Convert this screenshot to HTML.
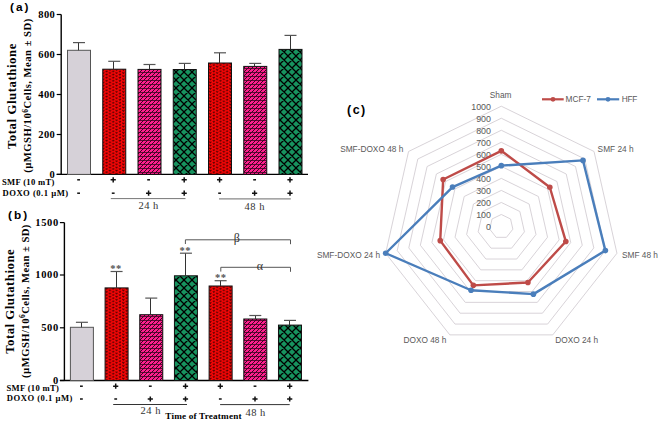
<!DOCTYPE html>
<html><head><meta charset="utf-8"><style>html,body{margin:0;padding:0;background:#fff;width:660px;height:422px;overflow:hidden}</style></head><body>
<svg width="660" height="422" viewBox="0 0 660 422" style="display:block">

<defs>
<pattern id="pRed" patternUnits="userSpaceOnUse" width="6.7" height="3.15" x="1.4" y="0">
  <rect width="6.7" height="3.15" fill="#fa0606"/>
  <path d="M0.3 -0.2 L1.3 1.0 L2.3 -0.2" stroke="#520000" stroke-width="1.0" fill="none"/>
  <path d="M0.3 2.95 L1.3 4.15 L2.3 2.95" stroke="#520000" stroke-width="1.0" fill="none"/>
  <path d="M3.65 1.4 L4.65 2.6 L5.65 1.4" stroke="#520000" stroke-width="1.0" fill="none"/>
</pattern>
<pattern id="pPink" patternUnits="userSpaceOnUse" width="4" height="4" x="0" y="0">
  <rect width="4" height="4" fill="#ff1f8e"/>
  <path d="M-1 5 L5 -1 M-1 1 L1 -1 M3 5 L5 3" stroke="#3a0620" stroke-width="1.0" fill="none"/>
  <path d="M0 0.5 H4" stroke="#3a0620" stroke-width="0.8" fill="none"/>
</pattern>
<pattern id="pGreen" patternUnits="userSpaceOnUse" width="8" height="8" x="0" y="0">
  <rect width="8" height="8" fill="#17935f"/>
  <path d="M-1 1 L1 -1 M0 8 L8 0 M7 9 L9 7 M-1 7 L1 9 M0 0 L8 8 M7 -1 L9 1" stroke="#000" stroke-width="1.3" fill="none"/>
</pattern>
</defs>

<rect width="660" height="422" fill="#fff"/>
<text x="10" y="11.0" font-family='"Liberation Sans", sans-serif' font-weight="bold" font-size="11.8" letter-spacing="2">(a)</text>
<line x1="61.2" y1="14.4" x2="61.2" y2="174.4" stroke="#000" stroke-width="1.4"/>
<line x1="56.7" y1="174.4" x2="308" y2="174.4" stroke="#000" stroke-width="1.4"/>
<line x1="56.7" y1="14.5" x2="61.2" y2="14.5" stroke="#000" stroke-width="1.2"/>
<text x="55.2" y="17.8" text-anchor="end" font-family='"Liberation Serif", serif' font-weight="bold" font-size="10.5" letter-spacing="0.4">800</text>
<line x1="56.7" y1="54.5" x2="61.2" y2="54.5" stroke="#000" stroke-width="1.2"/>
<text x="55.2" y="57.8" text-anchor="end" font-family='"Liberation Serif", serif' font-weight="bold" font-size="10.5" letter-spacing="0.4">600</text>
<line x1="56.7" y1="94.5" x2="61.2" y2="94.5" stroke="#000" stroke-width="1.2"/>
<text x="55.2" y="97.8" text-anchor="end" font-family='"Liberation Serif", serif' font-weight="bold" font-size="10.5" letter-spacing="0.4">400</text>
<line x1="56.7" y1="134.5" x2="61.2" y2="134.5" stroke="#000" stroke-width="1.2"/>
<text x="55.2" y="137.8" text-anchor="end" font-family='"Liberation Serif", serif' font-weight="bold" font-size="10.5" letter-spacing="0.4">200</text>
<line x1="56.7" y1="174.4" x2="61.2" y2="174.4" stroke="#000" stroke-width="1.2"/>
<text x="55.2" y="177.70000000000002" text-anchor="end" font-family='"Liberation Serif", serif' font-weight="bold" font-size="10.5" letter-spacing="0.4">0</text>
<rect x="67.50" y="50.30" width="23" height="124.10" fill="#d6d1d8" stroke="#555" stroke-width="1"/>
<line x1="78.50" y1="42.6" x2="78.50" y2="50.3" stroke="#333" stroke-width="1"/>
<line x1="73.00" y1="42.6" x2="85.00" y2="42.6" stroke="#555" stroke-width="1.2"/>
<rect x="102.75" y="69.20" width="23" height="105.20" fill="url(#pRed)" stroke="#111" stroke-width="1"/>
<line x1="113.50" y1="61.3" x2="113.50" y2="69.2" stroke="#333" stroke-width="1"/>
<line x1="108.25" y1="61.3" x2="120.25" y2="61.3" stroke="#555" stroke-width="1.2"/>
<rect x="138.00" y="69.40" width="23" height="105.00" fill="url(#pPink)" stroke="#111" stroke-width="1"/>
<line x1="149.50" y1="64.5" x2="149.50" y2="69.4" stroke="#333" stroke-width="1"/>
<line x1="143.50" y1="64.5" x2="155.50" y2="64.5" stroke="#555" stroke-width="1.2"/>
<rect x="173.25" y="69.50" width="23" height="104.90" fill="url(#pGreen)" stroke="#111" stroke-width="1"/>
<line x1="184.50" y1="63.4" x2="184.50" y2="69.5" stroke="#333" stroke-width="1"/>
<line x1="178.75" y1="63.4" x2="190.75" y2="63.4" stroke="#555" stroke-width="1.2"/>
<rect x="208.50" y="63.00" width="23" height="111.40" fill="url(#pRed)" stroke="#111" stroke-width="1"/>
<line x1="219.50" y1="52.8" x2="219.50" y2="63.0" stroke="#333" stroke-width="1"/>
<line x1="214.00" y1="52.8" x2="226.00" y2="52.8" stroke="#555" stroke-width="1.2"/>
<rect x="243.75" y="66.40" width="23" height="108.00" fill="url(#pPink)" stroke="#111" stroke-width="1"/>
<line x1="254.50" y1="63.4" x2="254.50" y2="66.4" stroke="#333" stroke-width="1"/>
<line x1="249.25" y1="63.4" x2="261.25" y2="63.4" stroke="#555" stroke-width="1.2"/>
<rect x="279.00" y="49.40" width="23" height="125.00" fill="url(#pGreen)" stroke="#111" stroke-width="1"/>
<line x1="290.50" y1="35.4" x2="290.50" y2="49.4" stroke="#333" stroke-width="1"/>
<line x1="284.50" y1="35.4" x2="296.50" y2="35.4" stroke="#555" stroke-width="1.2"/>
<path d="M77.20 179.80 H80.00" stroke="#111" stroke-width="1.5"/>
<path d="M110.60 179.80 H115.80 M113.20 177.20 V182.40" stroke="#111" stroke-width="1.5"/>
<path d="M147.20 179.80 H150.00" stroke="#111" stroke-width="1.5"/>
<path d="M181.60 179.80 H186.80 M184.20 177.20 V182.40" stroke="#111" stroke-width="1.5"/>
<path d="M217.00 179.80 H222.20 M219.60 177.20 V182.40" stroke="#111" stroke-width="1.5"/>
<path d="M253.20 179.80 H256.00" stroke="#111" stroke-width="1.5"/>
<path d="M287.40 179.80 H292.60 M290.00 177.20 V182.40" stroke="#111" stroke-width="1.5"/>
<path d="M77.20 193.20 H80.00" stroke="#111" stroke-width="1.5"/>
<path d="M111.80 193.20 H114.60" stroke="#111" stroke-width="1.5"/>
<path d="M146.00 193.20 H151.20 M148.60 190.60 V195.80" stroke="#111" stroke-width="1.5"/>
<path d="M181.60 193.20 H186.80 M184.20 190.60 V195.80" stroke="#111" stroke-width="1.5"/>
<path d="M218.20 193.20 H221.00" stroke="#111" stroke-width="1.5"/>
<path d="M252.00 193.20 H257.20 M254.60 190.60 V195.80" stroke="#111" stroke-width="1.5"/>
<path d="M287.40 193.20 H292.60 M290.00 190.60 V195.80" stroke="#111" stroke-width="1.5"/>
<text x="2" y="185.2" font-family='"Liberation Serif", serif' font-weight="bold" font-size="8.6" letter-spacing="0.3">SMF (10 mT)</text>
<text x="2.5" y="195.9" font-family='"Liberation Serif", serif' font-weight="bold" font-size="8.6" letter-spacing="0.5">DOXO (0.1 µM)</text>
<line x1="110.8" y1="198.6" x2="185.5" y2="198.6" stroke="#777" stroke-width="1"/>
<line x1="219" y1="198.9" x2="290.8" y2="198.9" stroke="#888" stroke-width="1.2"/>
<text x="148.6" y="208.8" text-anchor="middle" font-family='"Liberation Serif", serif' font-size="10.5" fill="#333" letter-spacing="0.5">24 h</text>
<text x="254.8" y="209.8" text-anchor="middle" font-family='"Liberation Serif", serif' font-size="10.5" fill="#333" letter-spacing="0.5">48 h</text>
<text transform="translate(15.7,96.1) rotate(-90)" text-anchor="middle" font-family='"Liberation Serif", serif' font-weight="bold" font-size="12.8" letter-spacing="0.55">Total Glutathione</text>
<text transform="translate(31.2,95.6) rotate(-90)" text-anchor="middle" font-family='"Liberation Serif", serif' font-weight="bold" font-size="10.6" letter-spacing="0.5">(µMGSH/10<tspan font-size="7.5" dy="-3.6">6</tspan><tspan dy="3.6">Cells, Mean ± SD)</tspan></text>
<text x="8" y="218.9" font-family='"Liberation Sans", sans-serif' font-weight="bold" font-size="11.8" letter-spacing="2">(b)</text>
<line x1="64.4" y1="222.6" x2="64.4" y2="380.5" stroke="#000" stroke-width="1.4"/>
<line x1="59.900000000000006" y1="380.5" x2="308.4" y2="380.5" stroke="#000" stroke-width="1.4"/>
<line x1="59.900000000000006" y1="222.6" x2="64.4" y2="222.6" stroke="#000" stroke-width="1.2"/>
<text x="59.0" y="225.9" text-anchor="end" font-family='"Liberation Serif", serif' font-weight="bold" font-size="10.5" letter-spacing="0.7">1500</text>
<line x1="59.900000000000006" y1="275.0" x2="64.4" y2="275.0" stroke="#000" stroke-width="1.2"/>
<text x="59.0" y="278.3" text-anchor="end" font-family='"Liberation Serif", serif' font-weight="bold" font-size="10.5" letter-spacing="0.7">1000</text>
<line x1="59.900000000000006" y1="327.8" x2="64.4" y2="327.8" stroke="#000" stroke-width="1.2"/>
<text x="59.0" y="331.1" text-anchor="end" font-family='"Liberation Serif", serif' font-weight="bold" font-size="10.5" letter-spacing="0.7">500</text>
<line x1="59.900000000000006" y1="380.5" x2="64.4" y2="380.5" stroke="#000" stroke-width="1.2"/>
<text x="59.0" y="383.8" text-anchor="end" font-family='"Liberation Serif", serif' font-weight="bold" font-size="10.5" letter-spacing="0.7">0</text>
<rect x="70.40" y="327.30" width="23" height="53.20" fill="#d6d1d8" stroke="#555" stroke-width="1"/>
<line x1="81.50" y1="322.3" x2="81.50" y2="327.3" stroke="#333" stroke-width="1"/>
<line x1="75.90" y1="322.3" x2="87.90" y2="322.3" stroke="#555" stroke-width="1.2"/>
<rect x="105.08" y="287.90" width="23" height="92.60" fill="url(#pRed)" stroke="#111" stroke-width="1"/>
<line x1="116.50" y1="271.5" x2="116.50" y2="287.9" stroke="#333" stroke-width="1"/>
<line x1="110.58" y1="271.5" x2="122.58" y2="271.5" stroke="#555" stroke-width="1.2"/>
<rect x="139.76" y="314.70" width="23" height="65.80" fill="url(#pPink)" stroke="#111" stroke-width="1"/>
<line x1="150.50" y1="298.1" x2="150.50" y2="314.7" stroke="#333" stroke-width="1"/>
<line x1="145.26" y1="298.1" x2="157.26" y2="298.1" stroke="#555" stroke-width="1.2"/>
<rect x="174.44" y="275.80" width="23" height="104.70" fill="url(#pGreen)" stroke="#111" stroke-width="1"/>
<line x1="185.50" y1="253.2" x2="185.50" y2="275.8" stroke="#333" stroke-width="1"/>
<line x1="179.94" y1="253.2" x2="191.94" y2="253.2" stroke="#555" stroke-width="1.2"/>
<rect x="209.12" y="286.00" width="23" height="94.50" fill="url(#pRed)" stroke="#111" stroke-width="1"/>
<line x1="220.50" y1="280.7" x2="220.50" y2="286.0" stroke="#333" stroke-width="1"/>
<line x1="214.62" y1="280.7" x2="226.62" y2="280.7" stroke="#555" stroke-width="1.2"/>
<rect x="243.80" y="319.00" width="23" height="61.50" fill="url(#pPink)" stroke="#111" stroke-width="1"/>
<line x1="255.50" y1="315.5" x2="255.50" y2="319.0" stroke="#333" stroke-width="1"/>
<line x1="249.30" y1="315.5" x2="261.30" y2="315.5" stroke="#555" stroke-width="1.2"/>
<rect x="278.48" y="325.10" width="23" height="55.40" fill="url(#pGreen)" stroke="#111" stroke-width="1"/>
<line x1="289.50" y1="320.4" x2="289.50" y2="325.1" stroke="#333" stroke-width="1"/>
<line x1="283.98" y1="320.4" x2="295.98" y2="320.4" stroke="#555" stroke-width="1.2"/>
<path d="M80.00 386.20 H82.80" stroke="#111" stroke-width="1.5"/>
<path d="M113.10 386.20 H118.30 M115.70 383.60 V388.80" stroke="#111" stroke-width="1.5"/>
<path d="M148.90 386.20 H151.70" stroke="#111" stroke-width="1.5"/>
<path d="M182.90 386.20 H188.10 M185.50 383.60 V388.80" stroke="#111" stroke-width="1.5"/>
<path d="M217.70 386.20 H222.90 M220.30 383.60 V388.80" stroke="#111" stroke-width="1.5"/>
<path d="M253.60 386.20 H256.40" stroke="#111" stroke-width="1.5"/>
<path d="M287.10 386.20 H292.30 M289.70 383.60 V388.80" stroke="#111" stroke-width="1.5"/>
<path d="M80.00 399.00 H82.80" stroke="#111" stroke-width="1.5"/>
<path d="M114.30 399.00 H117.10" stroke="#111" stroke-width="1.5"/>
<path d="M147.70 399.00 H152.90 M150.30 396.40 V401.60" stroke="#111" stroke-width="1.5"/>
<path d="M182.90 399.00 H188.10 M185.50 396.40 V401.60" stroke="#111" stroke-width="1.5"/>
<path d="M218.90 399.00 H221.70" stroke="#111" stroke-width="1.5"/>
<path d="M252.40 399.00 H257.60 M255.00 396.40 V401.60" stroke="#111" stroke-width="1.5"/>
<path d="M287.10 399.00 H292.30 M289.70 396.40 V401.60" stroke="#111" stroke-width="1.5"/>
<text x="6.5" y="391.4" font-family='"Liberation Serif", serif' font-weight="bold" font-size="8.6" letter-spacing="0.3">SMF (10 mT)</text>
<text x="6.8" y="401.4" font-family='"Liberation Serif", serif' font-weight="bold" font-size="8.6" letter-spacing="0.5">DOXO (0.1 µM)</text>
<line x1="113.2" y1="404.5" x2="187" y2="404.5" stroke="#333" stroke-width="1"/>
<line x1="220.1" y1="404.6" x2="289.7" y2="404.6" stroke="#333" stroke-width="1"/>
<text x="150.8" y="414.4" text-anchor="middle" font-family='"Liberation Serif", serif' font-size="10.5" fill="#333" letter-spacing="0.5">24 h</text>
<text x="255.6" y="415.6" text-anchor="middle" font-family='"Liberation Serif", serif' font-size="10.5" fill="#333" letter-spacing="0.5">48 h</text>
<text x="165.3" y="419.3" font-family='"Liberation Serif", serif' font-weight="bold" font-size="9.2" letter-spacing="0.18">Time of Treatment</text>
<text transform="translate(14.3,301.3) rotate(-90)" text-anchor="middle" font-family='"Liberation Serif", serif' font-weight="bold" font-size="12.8" letter-spacing="0.5">Total Glutathione</text>
<text transform="translate(28.6,301) rotate(-90)" text-anchor="middle" font-family='"Liberation Serif", serif' font-weight="bold" font-size="10.6" letter-spacing="0.47">(µMGSH/10<tspan font-size="7.5" dy="-3.6">6</tspan><tspan dy="3.6">Cells, Mean ± SD)</tspan></text>
<text x="116.1" y="271.90000000000003" text-anchor="middle" font-family='"Liberation Serif", serif' font-size="10.5" font-weight="bold" fill="#555" letter-spacing="0.6">**</text>
<text x="185.3" y="253.79999999999998" text-anchor="middle" font-family='"Liberation Serif", serif' font-size="10.5" font-weight="bold" fill="#555" letter-spacing="0.6">**</text>
<text x="220.8" y="281.40000000000003" text-anchor="middle" font-family='"Liberation Serif", serif' font-size="10.5" font-weight="bold" fill="#555" letter-spacing="0.6">**</text>
<path d="M185.4 244 V239.8 H290.5 V244.2" fill="none" stroke="#555" stroke-width="1"/>
<path d="M220.8 271.6 V267.3 H290.5 V271.8" fill="none" stroke="#555" stroke-width="1"/>
<text x="236.8" y="242" text-anchor="middle" font-family='"Liberation Serif", serif' font-size="12" fill="#333">β</text>
<text x="260" y="270.4" text-anchor="middle" font-family='"Liberation Serif", serif' font-size="12" fill="#333">α</text>
<polygon points="501.30,214.47 510.57,219.00 512.86,229.18 506.45,237.34 496.15,237.34 489.74,229.18 492.03,219.00" fill="none" stroke="#d4ced4" stroke-width="0.9"/>
<polygon points="501.30,202.44 519.85,211.50 524.43,231.85 511.59,248.18 491.01,248.18 478.17,231.85 482.75,211.50" fill="none" stroke="#d4ced4" stroke-width="0.9"/>
<polygon points="501.30,190.41 529.12,204.00 535.99,234.53 516.74,259.02 485.86,259.02 466.61,234.53 473.48,204.00" fill="none" stroke="#d4ced4" stroke-width="0.9"/>
<polygon points="501.30,178.38 538.40,196.50 547.56,237.21 521.89,269.85 480.71,269.85 455.04,237.21 464.20,196.50" fill="none" stroke="#d4ced4" stroke-width="0.9"/>
<polygon points="501.30,166.35 547.67,189.00 559.12,239.88 527.03,280.69 475.57,280.69 443.48,239.88 454.93,189.00" fill="none" stroke="#d4ced4" stroke-width="0.9"/>
<polygon points="501.30,154.32 556.94,181.50 570.69,242.56 532.18,291.53 470.42,291.53 431.91,242.56 445.66,181.50" fill="none" stroke="#d4ced4" stroke-width="0.9"/>
<polygon points="501.30,142.29 566.22,174.00 582.25,245.24 537.33,302.37 465.27,302.37 420.35,245.24 436.38,174.00" fill="none" stroke="#d4ced4" stroke-width="0.9"/>
<polygon points="501.30,130.26 575.49,166.50 593.81,247.92 542.47,313.21 460.13,313.21 408.79,247.92 427.11,166.50" fill="none" stroke="#d4ced4" stroke-width="0.9"/>
<polygon points="501.30,118.23 584.76,158.99 605.38,250.59 547.62,324.05 454.98,324.05 397.22,250.59 417.84,158.99" fill="none" stroke="#d4ced4" stroke-width="0.9"/>
<polygon points="501.30,106.20 594.04,151.49 616.94,253.27 552.77,334.89 449.83,334.89 385.66,253.27 408.56,151.49" fill="none" stroke="#d4ced4" stroke-width="0.9"/>
<text x="491" y="230.40" text-anchor="end" font-family='"Liberation Sans", sans-serif' font-size="8.9" fill="#595959">0</text>
<text x="491" y="218.37" text-anchor="end" font-family='"Liberation Sans", sans-serif' font-size="8.9" fill="#595959">100</text>
<text x="491" y="206.34" text-anchor="end" font-family='"Liberation Sans", sans-serif' font-size="8.9" fill="#595959">200</text>
<text x="491" y="194.31" text-anchor="end" font-family='"Liberation Sans", sans-serif' font-size="8.9" fill="#595959">300</text>
<text x="491" y="182.28" text-anchor="end" font-family='"Liberation Sans", sans-serif' font-size="8.9" fill="#595959">400</text>
<text x="491" y="170.25" text-anchor="end" font-family='"Liberation Sans", sans-serif' font-size="8.9" fill="#595959">500</text>
<text x="491" y="158.22" text-anchor="end" font-family='"Liberation Sans", sans-serif' font-size="8.9" fill="#595959">600</text>
<text x="491" y="146.19" text-anchor="end" font-family='"Liberation Sans", sans-serif' font-size="8.9" fill="#595959">700</text>
<text x="491" y="134.16" text-anchor="end" font-family='"Liberation Sans", sans-serif' font-size="8.9" fill="#595959">800</text>
<text x="491" y="122.13" text-anchor="end" font-family='"Liberation Sans", sans-serif' font-size="8.9" fill="#595959">900</text>
<text x="491" y="110.10" text-anchor="end" font-family='"Liberation Sans", sans-serif' font-size="8.9" fill="#595959">1000</text>
<polygon points="501.30,150.83 549.80,187.27 565.83,241.44 527.91,282.54 473.35,285.35 440.24,240.63 443.15,179.47" fill="none" stroke="#be4b48" stroke-width="2.4" stroke-linejoin="round"/>
<circle cx="501.30" cy="150.83" r="2.8" fill="#be4b48"/>
<circle cx="549.80" cy="187.27" r="2.8" fill="#be4b48"/>
<circle cx="565.83" cy="241.44" r="2.8" fill="#be4b48"/>
<circle cx="527.91" cy="282.54" r="2.8" fill="#be4b48"/>
<circle cx="473.35" cy="285.35" r="2.8" fill="#be4b48"/>
<circle cx="440.24" cy="240.63" r="2.8" fill="#be4b48"/>
<circle cx="443.15" cy="179.47" r="2.8" fill="#be4b48"/>
<polygon points="501.30,165.63 583.00,160.42 605.38,250.59 533.41,294.13 471.04,290.23 385.66,253.27 452.52,187.05" fill="none" stroke="#4a7ebb" stroke-width="2.4" stroke-linejoin="round"/>
<circle cx="501.30" cy="165.63" r="2.8" fill="#4a7ebb"/>
<circle cx="583.00" cy="160.42" r="2.8" fill="#4a7ebb"/>
<circle cx="605.38" cy="250.59" r="2.8" fill="#4a7ebb"/>
<circle cx="533.41" cy="294.13" r="2.8" fill="#4a7ebb"/>
<circle cx="471.04" cy="290.23" r="2.8" fill="#4a7ebb"/>
<circle cx="385.66" cy="253.27" r="2.8" fill="#4a7ebb"/>
<circle cx="452.52" cy="187.05" r="2.8" fill="#4a7ebb"/>
<text x="500.6" y="98.4" text-anchor="middle" font-family='"Liberation Sans", sans-serif' font-size="8.3" fill="#595959">Sham</text>
<text x="597.6" y="152.1" text-anchor="start" font-family='"Liberation Sans", sans-serif' font-size="8.3" fill="#595959">SMF 24 h</text>
<text x="622" y="257.5" text-anchor="start" font-family='"Liberation Sans", sans-serif' font-size="8.3" fill="#595959">SMF 48 h</text>
<text x="555.2" y="343.2" text-anchor="start" font-family='"Liberation Sans", sans-serif' font-size="8.3" fill="#595959">DOXO 24 h</text>
<text x="446.4" y="343" text-anchor="end" font-family='"Liberation Sans", sans-serif' font-size="8.3" fill="#595959">DOXO 48 h</text>
<text x="380.1" y="258" text-anchor="end" font-family='"Liberation Sans", sans-serif' font-size="8.3" fill="#595959">SMF-DOXO 24 h</text>
<text x="403.3" y="151.7" text-anchor="end" font-family='"Liberation Sans", sans-serif' font-size="8.3" fill="#595959">SMF-DOXO 48 h</text>
<line x1="542" y1="99.3" x2="563.7" y2="99.3" stroke="#be4b48" stroke-width="2.2"/><circle cx="553" cy="99.3" r="2.4" fill="#be4b48"/>
<text x="565.5" y="102.3" font-family='"Liberation Sans", sans-serif' font-size="8.3" fill="#595959">MCF-7</text>
<line x1="597" y1="99.3" x2="619.2" y2="99.3" stroke="#4a7ebb" stroke-width="2.2"/><circle cx="608" cy="99.3" r="2.4" fill="#4a7ebb"/>
<text x="621.7" y="102.3" font-family='"Liberation Sans", sans-serif' font-size="8.3" fill="#595959" letter-spacing="-0.3">HFF</text>
<text x="347" y="113.5" font-family='"Liberation Sans", sans-serif' font-weight="bold" font-size="12.5" letter-spacing="1.5">(c)</text>
</svg>
</body></html>
